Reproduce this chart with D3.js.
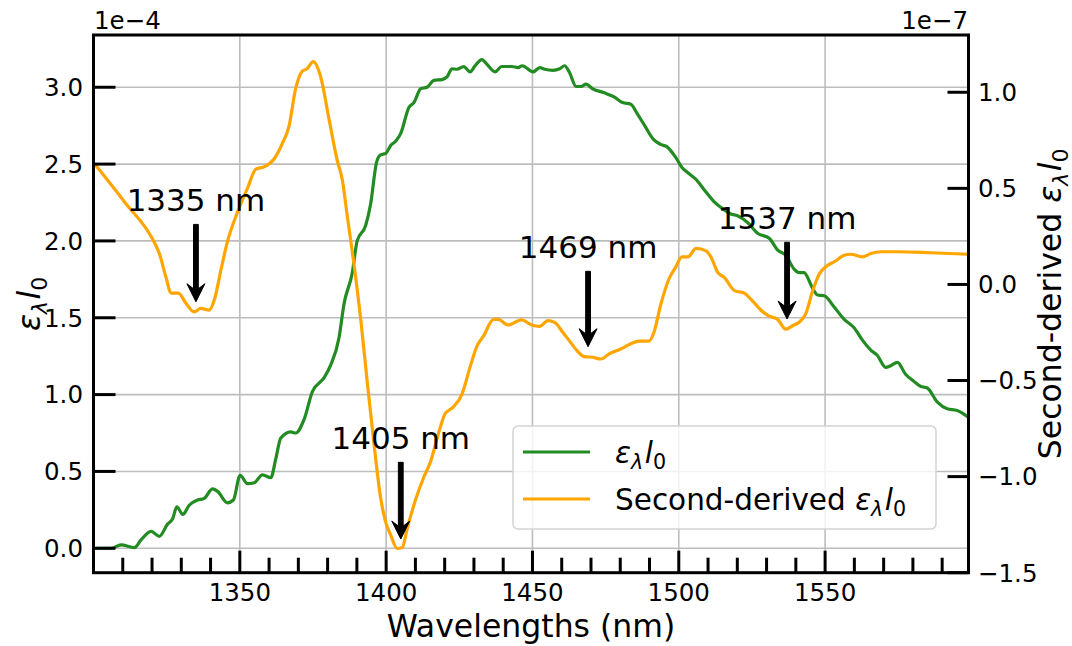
<!DOCTYPE html>
<html>
<head>
<meta charset="utf-8">
<script src="https://cdn.jsdelivr.net/npm/d3@7/dist/d3.min.js"></script>
<style>
  html, body { margin: 0; padding: 0; background: #fff; }
  svg { display: block; font-family: "DejaVu Sans", sans-serif; }
</style>
</head>
<body>
<svg id="chart" width="1072" height="646"></svg>
<script>
// Absorbance spectrum (x 1e-4)
const absWl = [1300.9,1306,1309.4,1314,1316.3,1319.7,1322.5,1325.3,1327,1328.5,1330.5,1332.7,1335.6,1337.8,1340.7,1342.4,1345.8,1347.8,1350.1,1352.6,1354.9,1357.7,1360.6,1362.3,1364,1367.4,1369.1,1372,1374.8,1378.8,1381,1383.9,1385.6,1388.4,1390.1,1393,1394.7,1396.7,1398.1,1399.9,1401.5,1403.3,1405,1407.8,1409.5,1411.8,1414,1416.3,1419.1,1420.8,1422.5,1424.2,1426.5,1428.7,1430.4,1432.7,1434.4,1437.2,1439.5,1442.9,1445.1,1446.5,1450.2,1452.5,1454.2,1457,1459.3,1461,1462.7,1464.9,1466.6,1468.3,1470.6,1474.5,1477.9,1480.8,1483.6,1485.9,1488.1,1491.5,1493.8,1496,1498.9,1501.1,1503.1,1505.9,1508.8,1512.2,1515,1517.8,1520.1,1523.5,1526.9,1530.9,1533.8,1536.6,1539.4,1541.1,1542.8,1545.7,1547.4,1549.7,1553.1,1556.5,1559.9,1562.7,1565.6,1567.8,1570.7,1572.4,1574.7,1577.5,1580.3,1582.6,1584.9,1588.3,1591.7,1595.1,1599];
const absVal = [0.0,0.0,0.022,0.004,0.056,0.11,0.078,0.157,0.19,0.27,0.22,0.28,0.314,0.325,0.386,0.37,0.296,0.314,0.475,0.42,0.426,0.478,0.46,0.583,0.717,0.758,0.75,0.84,1.02,1.11,1.19,1.37,1.59,1.79,2.0,2.10,2.24,2.51,2.56,2.57,2.62,2.65,2.70,2.87,2.90,2.99,3.0,3.045,3.05,3.067,3.12,3.117,3.134,3.10,3.14,3.18,3.15,3.10,3.135,3.135,3.128,3.14,3.10,3.128,3.117,3.11,3.12,3.14,3.094,3.005,3.005,3.02,2.99,2.964,2.937,2.90,2.89,2.825,2.758,2.657,2.628,2.612,2.545,2.478,2.444,2.40,2.33,2.253,2.21,2.175,2.164,2.12,2.05,2.018,1.94,1.906,1.816,1.794,1.794,1.693,1.648,1.643,1.57,1.49,1.435,1.356,1.29,1.256,1.177,1.188,1.21,1.132,1.087,1.054,1.043,0.953,0.908,0.897,0.852];

// Second derivative of the spectrum (x 1e-7)
const derWl = [1300.9,1310.6,1320.8,1322.5,1324.8,1326.5,1329,1331.6,1334.4,1336.7,1339.5,1341.3,1343.5,1345.8,1349.2,1352.6,1355.5,1358.3,1361.7,1364.5,1366.8,1369.1,1371.3,1373,1375.1,1377.6,1380.5,1383.3,1385,1386.7,1389,1391.3,1393.5,1395.8,1398.1,1399.8,1401.6,1403.8,1405.5,1407.2,1410.1,1412.9,1415.2,1418,1420.2,1422.5,1425.9,1428.7,1431,1433.3,1436.7,1438.3,1441.7,1446.3,1449.7,1452.5,1455.3,1457.6,1460.4,1462.7,1465.5,1467.8,1470.6,1473.4,1476.2,1480.2,1483.6,1486.4,1489.8,1491.5,1493.8,1496.6,1498.9,1501.1,1503.1,1505.9,1509.3,1511,1513.3,1515.6,1519,1522.4,1525.2,1528.1,1530.9,1533.8,1536.6,1538.9,1541.1,1543.4,1545.7,1548,1550.8,1553.6,1556.5,1558.8,1562.7,1565.6,1569,1574.7,1586,1599];
const derVal = [0.617,0.429,0.218,0.161,0.036,-0.045,-0.045,-0.098,-0.143,-0.125,-0.134,-0.08,0.072,0.224,0.376,0.50,0.60,0.612,0.653,0.733,0.823,1.02,1.109,1.123,1.159,1.082,0.859,0.644,0.546,0.358,0.107,-0.179,-0.501,-0.823,-1.109,-1.234,-1.306,-1.374,-1.369,-1.27,-1.118,-1.002,-0.921,-0.769,-0.671,-0.644,-0.572,-0.429,-0.322,-0.268,-0.182,-0.182,-0.211,-0.184,-0.211,-0.218,-0.188,-0.197,-0.25,-0.295,-0.349,-0.376,-0.379,-0.388,-0.361,-0.336,-0.309,-0.295,-0.295,-0.25,-0.107,0.027,0.089,0.143,0.143,0.188,0.175,0.143,0.063,0.036,-0.032,-0.045,-0.086,-0.134,-0.165,-0.182,-0.233,-0.215,-0.197,-0.152,-0.036,0.054,0.098,0.122,0.152,0.157,0.143,0.161,0.17,0.17,0.165,0.157];

// Axis ticks
const xMajorTicks = [1350, 1400, 1450, 1500, 1550];
const xMinorTicks = [1310,1320,1330,1340,1360,1370,1380,1390,1410,1420,1430,1440,1460,1470,1480,1490,1510,1520,1530,1540,1560,1570,1580,1590];
const leftTicks = [0, 0.5, 1.0, 1.5, 2.0, 2.5, 3.0];
const rightTicks = [-1.5, -1.0, -0.5, 0.0, 0.5, 1.0];

// Peak annotations (label baseline and arrow tip on the derivative axis)
const annWl = [1335, 1405, 1469, 1537];
const annLabelVal = [0.380, -0.858, 0.136, 0.287];
const annTipVal = [-0.090, -1.325, -0.324, -0.180];

const plot = { left: 93.5, right: 968.5, top: 35, bottom: 572.7 };

const svg = d3.select("#chart");
const x = d3.scaleLinear().domain([1300, 1599]).range([plot.left, plot.right]);
const yL = d3.scaleLinear().domain([-0.159, 3.34]).range([plot.bottom, plot.top]);
const yR = d3.scaleLinear().domain([-1.5, 1.298]).range([plot.bottom, plot.top]);

const fmt = d => (d < 0 ? "\u2212" : "") + Math.abs(d).toFixed(1);

// grid
const grid = svg.append("g").attr("stroke", "#bdbdbd").attr("stroke-width", 1.6);
xMajorTicks.forEach(t => grid.append("line").attr("x1", x(t)).attr("x2", x(t)).attr("y1", plot.top).attr("y2", plot.bottom));
leftTicks.forEach(t => grid.append("line").attr("x1", plot.left).attr("x2", plot.right).attr("y1", yL(t)).attr("y2", yL(t)));

svg.append("defs").append("clipPath").attr("id", "clip")
  .append("rect").attr("x", plot.left).attr("y", plot.top)
  .attr("width", plot.right - plot.left).attr("height", plot.bottom - plot.top);

const lineAbs = d3.line().x(i => x(absWl[i])).y(i => yL(absVal[i])).curve(d3.curveMonotoneX);
const lineDer = d3.line().x(i => x(derWl[i])).y(i => yR(derVal[i])).curve(d3.curveMonotoneX);

const lines = svg.append("g").attr("clip-path", "url(#clip)");
lines.append("path").attr("d", lineAbs(d3.range(absWl.length)))
  .attr("fill", "none").attr("stroke", "#228B22").attr("stroke-width", 3.2).attr("stroke-linejoin", "round").attr("stroke-linecap", "round");
lines.append("path").attr("d", lineDer(d3.range(derWl.length)))
  .attr("fill", "none").attr("stroke", "#FFA500").attr("stroke-width", 3.2).attr("stroke-linejoin", "round").attr("stroke-linecap", "round");

// axes: inward ticks
const axes = svg.append("g").attr("stroke", "#000");
xMajorTicks.forEach(t => axes.append("line").attr("x1", x(t)).attr("x2", x(t)).attr("y1", plot.bottom).attr("y2", plot.bottom - 22).attr("stroke-width", 3));
xMinorTicks.forEach(t => axes.append("line").attr("x1", x(t)).attr("x2", x(t)).attr("y1", plot.bottom).attr("y2", plot.bottom - 15).attr("stroke-width", 3));
leftTicks.forEach(t => axes.append("line").attr("x1", plot.left).attr("x2", plot.left + 22).attr("y1", yL(t)).attr("y2", yL(t)).attr("stroke-width", 3));
rightTicks.forEach(t => axes.append("line").attr("x1", plot.right).attr("x2", plot.right - 21).attr("y1", yR(t)).attr("y2", yR(t)).attr("stroke-width", 3));
axes.append("rect").attr("x", plot.left).attr("y", plot.top)
  .attr("width", plot.right - plot.left).attr("height", plot.bottom - plot.top)
  .attr("fill", "none").attr("stroke-width", 3);

// tick labels
const tickFont = 24.5;
const labels = svg.append("g").attr("font-size", tickFont).attr("fill", "#000");
xMajorTicks.forEach(t => labels.append("text").attr("x", x(t)).attr("y", 601).attr("text-anchor", "middle").text(t));
leftTicks.forEach(t => labels.append("text").attr("x", 83).attr("y", yL(t)).attr("dy", "0.36em").attr("text-anchor", "end").text(fmt(t)));
rightTicks.forEach(t => labels.append("text").attr("x", 978).attr("y", yR(t)).attr("dy", "0.36em").attr("text-anchor", "start").text(fmt(t)));
labels.append("text").attr("x", 94).attr("y", 29).text("1e\u22124");
labels.append("text").attr("x", 968).attr("y", 29).attr("text-anchor", "end").text("1e\u22127");

// math-style label: epsilon_lambda l_0
function mathLabel(sel, size, prefix) {
  const sub = size * 0.7, drop = size * 0.22;
  if (prefix) sel.append("tspan").text(prefix);
  sel.append("tspan").attr("font-style", "italic").text("\u03B5");
  sel.append("tspan").attr("font-style", "italic").attr("font-size", sub).attr("dy", drop).text("\u03BB");
  sel.append("tspan").attr("font-style", "italic").attr("dy", -drop).attr("dx", 1.5).text("l");
  sel.append("tspan").attr("font-size", sub).attr("dy", drop).text("0");
}

const axisFont = 31.5;
svg.append("text").attr("x", (plot.left + plot.right) / 2).attr("y", 637)
  .attr("text-anchor", "middle").attr("font-size", axisFont).text("Wavelengths (nm)");

const yLabL = svg.append("text").attr("font-size", axisFont).attr("text-anchor", "middle")
  .attr("transform", `translate(40,${(plot.top + plot.bottom) / 2}) rotate(-90)`);
mathLabel(yLabL, axisFont);

const yLabR = svg.append("text").attr("font-size", axisFont).attr("text-anchor", "middle")
  .attr("transform", `translate(1061,${(plot.top + plot.bottom) / 2}) rotate(-90)`);
mathLabel(yLabR, axisFont, "Second-derived ");

// annotations with arrows
const ann = svg.append("g");
annWl.forEach((wl, i) => {
  const ax = x(wl), base = yR(annLabelVal[i]), tail = base + 13, tip = yR(annTipVal[i]);
  ann.append("text").attr("x", ax).attr("y", base).attr("text-anchor", "middle")
    .attr("font-size", 31).text(wl + " nm");
  const hw = 9, hl = 18, sw = 2.4;
  const pts = [[ax, tip], [ax + hw, tip - hl], [ax + sw, tip - hl + 5], [ax + sw, tail], [ax - sw, tail], [ax - sw, tip - hl + 5], [ax - hw, tip - hl]];
  ann.append("path").attr("d", d3.line()(pts) + "Z").attr("fill", "#000").attr("stroke", "#000").attr("stroke-width", 1).attr("stroke-linejoin", "round");
});

// legend
const lg = svg.append("g");
lg.append("rect").attr("x", 513).attr("y", 426).attr("width", 423).attr("height", 103).attr("rx", 5)
  .attr("fill", "#fff").attr("fill-opacity", 0.8).attr("stroke", "#d3d3d3").attr("stroke-width", 1.5);
const legendItems = [{ color: "#228B22", prefix: null, y: 452 }, { color: "#FFA500", prefix: "Second-derived ", y: 499 }];
legendItems.forEach(it => {
  lg.append("line").attr("x1", 523).attr("x2", 590).attr("y1", it.y).attr("y2", it.y)
    .attr("stroke", it.color).attr("stroke-width", 3);
  const t = lg.append("text").attr("x", 615).attr("y", it.y + 11).attr("font-size", 29.5);
  mathLabel(t, 29.5, it.prefix);
});
</script>
</body>
</html>
